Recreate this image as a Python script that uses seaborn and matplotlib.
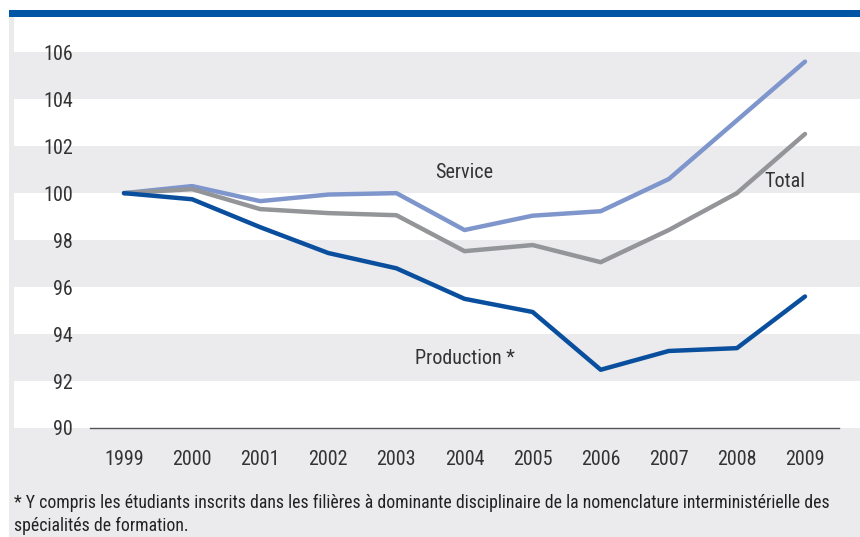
import numpy as np
import pandas as pd
import matplotlib
matplotlib.use('Agg')
import matplotlib.pyplot as plt
from matplotlib import font_manager as fm
from matplotlib.patches import Rectangle
import seaborn as sns

# indices 1999 = 100
YEARS = ['1999', '2000', '2001', '2002', '2003', '2004', '2005', '2006', '2007', '2008', '2009']
SERVICE = [100.0, 100.3, 99.66, 99.94, 100.0, 98.43, 99.04, 99.23, 100.6, 103.1, 105.6]
TOTAL = [100.0, 100.17, 99.32, 99.15, 99.06, 97.53, 97.79, 97.06, 98.43, 100.0, 102.52]
PRODUCTION = [100.0, 99.74, 98.55, 97.45, 96.8, 95.5, 94.94, 92.48, 93.28, 93.4, 95.6]
Y_TICKS = [90, 92, 94, 96, 98, 100, 102, 104, 106]
FOOTNOTE_1 = ("* Y compris les étudiants inscrits dans les filières à dominante disciplinaire "
              "de la nomenclature interministérielle des")
FOOTNOTE_2 = "spécialités de formation."

COLORS = {'Service': '#7f96cc', 'Total': '#939598', 'Production': '#0a4f9e'}
BAND = '#ebebed'
TOPBAR = '#0055a4'

df = pd.DataFrame({
    'year': YEARS * 3,
    'value': SERVICE + TOTAL + PRODUCTION,
    'serie': ['Service'] * 11 + ['Total'] * 11 + ['Production'] * 11,
})
df['pos'] = df['year'].map({y: i for i, y in enumerate(YEARS)})

# condensed face close to the original Univers Condensed, whichever is installed
installed = {f.name for f in fm.fontManager.ttflist}
wanted = ['Roboto Condensed', 'Archivo Narrow', 'PT Sans Narrow', 'Liberation Sans Narrow',
          'Asap Condensed', 'Encode Sans Condensed', 'Barlow Semi Condensed', 'Open Sans Condensed',
          'Fira Sans Condensed', 'IBM Plex Sans Condensed']
narrow = [f for f in wanted if f in installed][:1]

sns.set_style('white')
plt.rcParams['font.family'] = narrow + ['Liberation Sans', 'DejaVu Sans']

W, H = 860, 537
fig = plt.figure(figsize=(W / 100, H / 100), dpi=100)

# grey frame (left strip + bottom block) and blue top bar
fig.patches.append(Rectangle((9 / W, 0), 1, 1 - 17 / H, transform=fig.transFigure,
                             facecolor=BAND, edgecolor='none', zorder=-2))
fig.patches.append(Rectangle((9 / W, 1 - 17 / H), 1, 7 / H, transform=fig.transFigure,
                             facecolor=TOPBAR, edgecolor='none', zorder=-1))

ax = fig.add_axes([14 / W, 1 - 428 / H, (W - 14) / W, (428 - 17) / H])
ax.set_zorder(1)
ax.set_facecolor('white')
for lo in (92, 96, 100, 104):
    ax.axhspan(lo, lo + 2, color=BAND, lw=0, zorder=0)

sns.lineplot(data=df, x='pos', y='value', hue='serie', palette=COLORS,
             linewidth=3.2, legend=False, ax=ax, zorder=3)

step = 68.1
ax.set_xlim(-110 / step, 736 / step)
ax.set_ylim(90, 107.5)

for s in ('top', 'right', 'left'):
    ax.spines[s].set_visible(False)
ax.spines['bottom'].set_bounds(-0.5, len(YEARS) - 0.5)
ax.spines['bottom'].set_color('#555555')
ax.spines['bottom'].set_linewidth(1.0)

ax.set_xticks(range(len(YEARS)))
ax.set_xticklabels(YEARS)
ax.set_xticks(np.arange(-0.5, len(YEARS)), minor=True)
ax.tick_params(axis='x', which='major', length=0, pad=16, labelsize=14.5, labelcolor='#333333')
ax.tick_params(axis='x', which='minor', length=5, width=1, color='#555555', direction='out')

ax.set_yticks(Y_TICKS)
ax.set_yticklabels([str(v) for v in Y_TICKS])
ax.tick_params(axis='y', length=0, pad=-42.5, labelsize=14.5, labelcolor='#333333')
for lab in ax.get_yticklabels():
    lab.set_horizontalalignment('right')

ax.set_xlabel('')
ax.set_ylabel('')

ax.text(5.0, 100.9, 'Service', fontsize=14.5, color='#333333', ha='center', va='center')
ax.text(9.7, 100.48, 'Total', fontsize=14.5, color='#333333', ha='center', va='center')
ax.text(5.0, 92.98, 'Production *', fontsize=14.5, color='#333333', ha='center', va='center')

fig.text(14 / W, 1 - 508 / H, FOOTNOTE_1, fontsize=12.8, color='#222222',
         ha='left', va='baseline')
fig.text(14 / W, 1 - 531 / H, FOOTNOTE_2, fontsize=12.8, color='#222222',
         ha='left', va='baseline')

fig.savefig('out.png', dpi=100)
plt.close(fig)
